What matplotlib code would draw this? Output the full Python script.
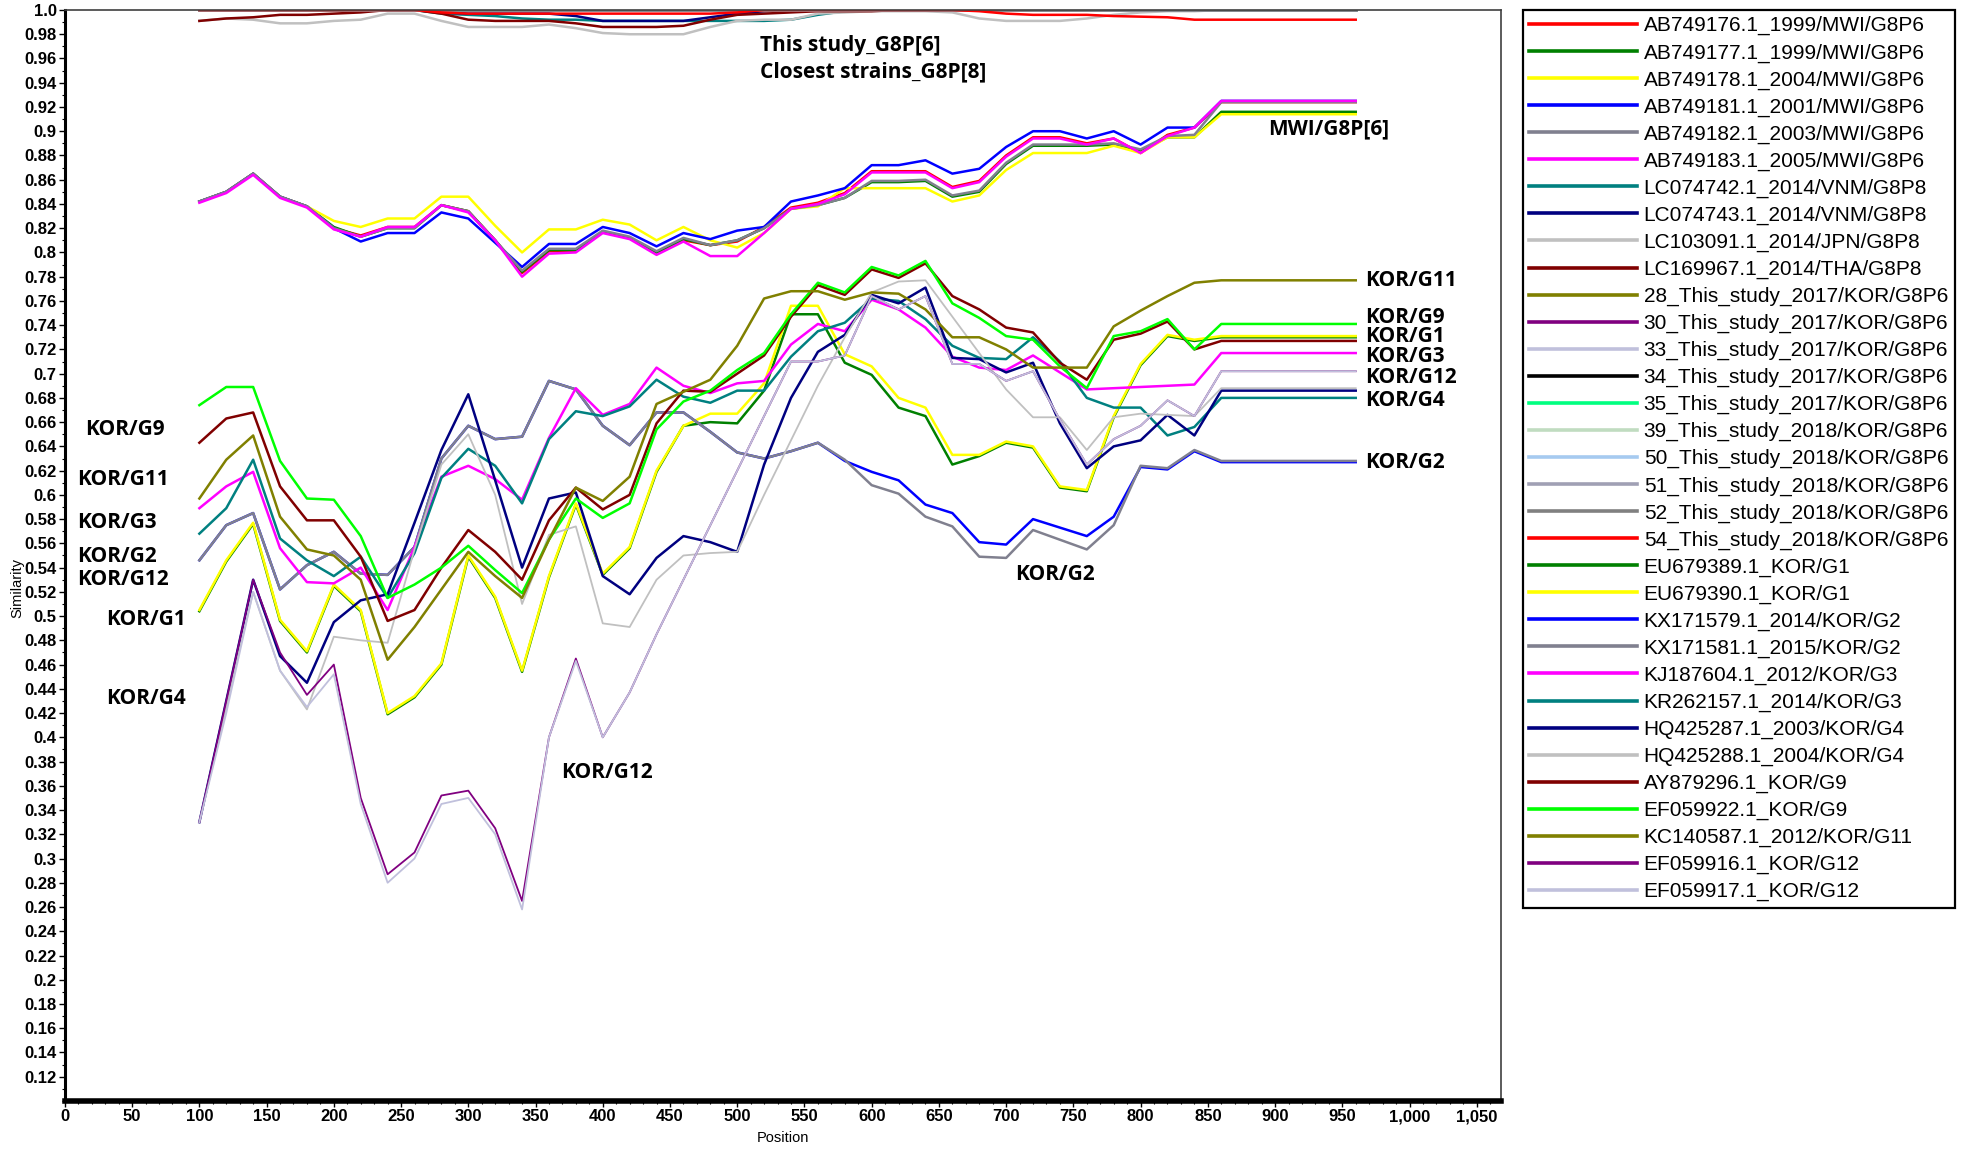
import matplotlib
matplotlib.use('Agg')
import matplotlib.pyplot as plt
from matplotlib.ticker import MultipleLocator, FixedLocator, FuncFormatter

# window midpoints (bp)
POSITION = list(range(100, 961, 20))

# ---- MWI G8P[6] ----
AB749176 = [0.842, 0.850, 0.865, 0.846, 0.838, 0.820, 0.814, 0.821, 0.821,
            0.839, 0.834, 0.810, 0.783, 0.801, 0.801, 0.817, 0.812, 0.800, 0.810,
            0.806, 0.809, 0.821, 0.837, 0.841, 0.849, 0.867, 0.867, 0.867, 0.854,
            0.859, 0.880, 0.895, 0.895, 0.890, 0.894, 0.882, 0.897, 0.903, 0.924,
            0.924, 0.924, 0.924, 0.924, 0.924]
AB749177 = [0.842, 0.850, 0.865, 0.846, 0.838, 0.821, 0.813, 0.820, 0.820,
            0.839, 0.834, 0.810, 0.784, 0.802, 0.802, 0.817, 0.812, 0.800, 0.811,
            0.806, 0.810, 0.820, 0.836, 0.839, 0.845, 0.858, 0.858, 0.859, 0.846,
            0.850, 0.873, 0.888, 0.888, 0.888, 0.889, 0.884, 0.895, 0.895, 0.916,
            0.916, 0.916, 0.916, 0.916, 0.916]
AB749178 = [0.842, 0.850, 0.865, 0.846, 0.838, 0.826, 0.821, 0.828, 0.828,
            0.846, 0.846, 0.822, 0.800, 0.819, 0.819, 0.827, 0.823, 0.810, 0.821,
            0.810, 0.804, 0.816, 0.836, 0.838, 0.853, 0.853, 0.853, 0.853, 0.842,
            0.847, 0.868, 0.882, 0.882, 0.882, 0.888, 0.882, 0.895, 0.895, 0.914,
            0.914, 0.914, 0.914, 0.914, 0.914]
AB749181 = [0.842, 0.850, 0.865, 0.846, 0.838, 0.820, 0.809, 0.816, 0.816,
            0.833, 0.828, 0.808, 0.788, 0.807, 0.807, 0.821, 0.816, 0.805, 0.816,
            0.811, 0.818, 0.821, 0.842, 0.847, 0.853, 0.872, 0.872, 0.876, 0.865,
            0.869, 0.887, 0.900, 0.900, 0.894, 0.900, 0.889, 0.903, 0.903, 0.925,
            0.925, 0.925, 0.925, 0.925, 0.925]
AB749182 = [0.842, 0.850, 0.865, 0.846, 0.838, 0.820, 0.813, 0.820, 0.820,
            0.839, 0.834, 0.810, 0.785, 0.803, 0.803, 0.818, 0.813, 0.801, 0.812,
            0.806, 0.810, 0.820, 0.836, 0.839, 0.845, 0.859, 0.859, 0.860, 0.847,
            0.851, 0.874, 0.889, 0.889, 0.889, 0.890, 0.885, 0.896, 0.897, 0.924,
            0.924, 0.924, 0.924, 0.924, 0.924]
AB749183 = [0.841, 0.849, 0.864, 0.845, 0.837, 0.819, 0.813, 0.821, 0.821,
            0.839, 0.833, 0.810, 0.780, 0.799, 0.800, 0.816, 0.811, 0.798, 0.809,
            0.797, 0.797, 0.816, 0.836, 0.840, 0.848, 0.866, 0.866, 0.866, 0.853,
            0.858, 0.879, 0.894, 0.894, 0.889, 0.894, 0.882, 0.896, 0.903, 0.925,
            0.925, 0.925, 0.925, 0.925, 0.925]

# ---- closest G8P[8] ----
LC074742 = [1.0, 1.0, 1.0, 1.0, 1.0, 1.0, 1.0, 1.0, 1.0,
            0.997, 0.996, 0.995, 0.993, 0.992, 0.992, 0.991, 0.991, 0.991, 0.991,
            0.991, 0.991, 0.991, 0.992, 0.996, 0.999, 1.0, 1.0, 1.0, 1.0,
            1.0, 1.0, 1.0, 1.0, 1.0, 1.0, 1.0, 1.0, 1.0, 1.0,
            1.0, 1.0, 1.0, 1.0, 1.0]
LC074743 = [1.0, 1.0, 1.0, 1.0, 1.0, 1.0, 1.0, 1.0, 1.0,
            0.998, 0.997, 0.997, 0.997, 0.997, 0.995, 0.991, 0.991, 0.991, 0.991,
            0.994, 0.997, 0.999, 1.0, 1.0, 1.0, 1.0, 1.0, 1.0, 1.0,
            1.0, 1.0, 1.0, 1.0, 1.0, 1.0, 1.0, 1.0, 1.0, 1.0,
            1.0, 1.0, 1.0, 1.0, 1.0]
LC103091 = [0.991, 0.993, 0.992, 0.989, 0.989, 0.991, 0.992, 0.997, 0.997,
            0.991, 0.986, 0.986, 0.986, 0.988, 0.985, 0.981, 0.980, 0.980, 0.980,
            0.986, 0.991, 0.992, 0.992, 0.997, 0.998, 0.999, 0.999, 0.999, 0.998,
            0.993, 0.991, 0.991, 0.991, 0.993, 0.996, 0.998, 0.999, 0.999, 1.0,
            1.0, 1.0, 1.0, 1.0, 1.0]
LC169967 = [0.991, 0.993, 0.994, 0.996, 0.996, 0.997, 0.998, 1.0, 1.0,
            0.997, 0.992, 0.991, 0.991, 0.991, 0.989, 0.986, 0.986, 0.986, 0.987,
            0.992, 0.996, 0.997, 0.998, 0.999, 0.999, 0.999, 1.0, 1.0, 1.0,
            1.0, 1.0, 1.0, 1.0, 1.0, 1.0, 1.0, 1.0, 1.0, 1.0,
            1.0, 1.0, 1.0, 1.0, 1.0]

# ---- this study (flat on the top border) ----
STUDY_TOP = [1.0, 1.0, 1.0, 1.0, 1.0, 1.0, 1.0, 1.0, 1.0,
             1.0, 1.0, 1.0, 1.0, 1.0, 1.0, 1.0, 1.0, 1.0, 1.0,
             1.0, 1.0, 1.0, 1.0, 1.0, 1.0, 1.0, 1.0, 1.0, 1.0,
             1.0, 1.0, 1.0, 1.0, 1.0, 1.0, 1.0, 1.0, 1.0, 1.0,
             1.0, 1.0, 1.0, 1.0, 1.0]
STUDY_54 = [1.0, 1.0, 1.0, 1.0, 1.0, 1.0, 1.0, 1.0, 1.0,
            0.998, 0.997, 0.997, 0.997, 0.997, 0.997, 0.997, 0.997, 0.997, 0.997,
            0.997, 0.998, 1.0, 1.0, 1.0, 1.0, 1.0, 1.0, 1.0, 1.0,
            0.999, 0.997, 0.996, 0.996, 0.996, 0.995, 0.9945, 0.994, 0.992, 0.992,
            0.992, 0.992, 0.992, 0.992, 0.992]

# ---- KOR reference strains ----
EU679389 = [0.504, 0.545, 0.576, 0.496, 0.470, 0.525, 0.504, 0.419, 0.433,
            0.460, 0.549, 0.515, 0.454, 0.532, 0.592, 0.534, 0.556, 0.619, 0.657,
            0.660, 0.659, 0.686, 0.749, 0.749, 0.709, 0.699, 0.672, 0.665, 0.625,
            0.632, 0.643, 0.639, 0.606, 0.603, 0.664, 0.707, 0.731, 0.727, 0.730,
            0.730, 0.730, 0.730, 0.730, 0.730]
EU679390 = [0.505, 0.546, 0.577, 0.497, 0.471, 0.526, 0.505, 0.420, 0.434,
            0.461, 0.550, 0.516, 0.455, 0.533, 0.593, 0.535, 0.557, 0.620, 0.657,
            0.667, 0.667, 0.692, 0.756, 0.756, 0.716, 0.706, 0.680, 0.672, 0.633,
            0.633, 0.644, 0.640, 0.607, 0.604, 0.665, 0.708, 0.732, 0.728, 0.731,
            0.731, 0.731, 0.731, 0.731, 0.731]
KX171579 = [0.546, 0.575, 0.585, 0.522, 0.542, 0.553, 0.535, 0.534, 0.557,
            0.630, 0.657, 0.646, 0.648, 0.694, 0.687, 0.657, 0.641, 0.668, 0.668,
            0.652, 0.635, 0.630, 0.636, 0.643, 0.628, 0.619, 0.612, 0.592, 0.585,
            0.561, 0.559, 0.580, 0.573, 0.566, 0.582, 0.623, 0.621, 0.636, 0.627,
            0.627, 0.627, 0.627, 0.627, 0.627]
KX171581 = [0.546, 0.575, 0.585, 0.522, 0.542, 0.553, 0.535, 0.534, 0.557,
            0.630, 0.657, 0.646, 0.648, 0.694, 0.687, 0.657, 0.641, 0.668, 0.668,
            0.652, 0.635, 0.630, 0.636, 0.643, 0.629, 0.608, 0.601, 0.582, 0.574,
            0.549, 0.548, 0.571, 0.563, 0.555, 0.575, 0.624, 0.622, 0.637, 0.628,
            0.628, 0.628, 0.628, 0.628, 0.628]
KJ187604 = [0.589, 0.607, 0.619, 0.556, 0.528, 0.527, 0.540, 0.505, 0.557,
            0.615, 0.624, 0.613, 0.596, 0.647, 0.688, 0.666, 0.675, 0.705, 0.690,
            0.684, 0.692, 0.694, 0.724, 0.741, 0.735, 0.761, 0.753, 0.738, 0.714,
            0.705, 0.703, 0.715, 0.701, 0.687, 0.688, 0.689, 0.690, 0.691, 0.717,
            0.717, 0.717, 0.717, 0.717, 0.717]
KR262157 = [0.568, 0.589, 0.629, 0.564, 0.546, 0.533, 0.549, 0.515, 0.552,
            0.614, 0.638, 0.624, 0.593, 0.646, 0.669, 0.665, 0.673, 0.695, 0.681,
            0.676, 0.686, 0.686, 0.714, 0.735, 0.742, 0.762, 0.760, 0.745, 0.723,
            0.713, 0.712, 0.730, 0.710, 0.680, 0.672, 0.672, 0.649, 0.656, 0.680,
            0.680, 0.680, 0.680, 0.680, 0.680]
HQ425287 = [0.330, 0.430, 0.530, 0.467, 0.445, 0.495, 0.513, 0.518, 0.577,
            0.637, 0.683, 0.612, 0.540, 0.597, 0.602, 0.533, 0.518, 0.548, 0.566,
            0.561, 0.553, 0.625, 0.680, 0.718, 0.732, 0.765, 0.758, 0.771, 0.713,
            0.712, 0.701, 0.709, 0.659, 0.622, 0.640, 0.645, 0.666, 0.649, 0.686,
            0.686, 0.686, 0.686, 0.686, 0.686]
HQ425288 = [0.330, 0.425, 0.520, 0.455, 0.423, 0.483, 0.480, 0.478, 0.555,
            0.625, 0.650, 0.600, 0.510, 0.567, 0.574, 0.494, 0.491, 0.530, 0.550,
            0.552, 0.553, 0.600, 0.645, 0.690, 0.730, 0.767, 0.776, 0.777, 0.747,
            0.717, 0.687, 0.664, 0.664, 0.637, 0.664, 0.667, 0.666, 0.665, 0.688,
            0.688, 0.688, 0.688, 0.688, 0.688]
AY879296 = [0.643, 0.663, 0.668, 0.607, 0.579, 0.579, 0.549, 0.496, 0.505,
            0.540, 0.571, 0.553, 0.530, 0.579, 0.606, 0.588, 0.600, 0.659, 0.686,
            0.685, 0.700, 0.715, 0.747, 0.773, 0.765, 0.786, 0.779, 0.791, 0.764,
            0.753, 0.738, 0.734, 0.709, 0.695, 0.728, 0.733, 0.743, 0.720, 0.727,
            0.727, 0.727, 0.727, 0.727, 0.727]
EF059922 = [0.674, 0.689, 0.689, 0.628, 0.597, 0.596, 0.566, 0.515, 0.526,
            0.540, 0.558, 0.538, 0.519, 0.563, 0.597, 0.581, 0.593, 0.654, 0.677,
            0.686, 0.703, 0.717, 0.749, 0.775, 0.767, 0.788, 0.781, 0.793, 0.758,
            0.746, 0.731, 0.728, 0.706, 0.688, 0.731, 0.735, 0.745, 0.720, 0.741,
            0.741, 0.741, 0.741, 0.741, 0.741]
KC140587 = [0.597, 0.629, 0.649, 0.582, 0.555, 0.550, 0.530, 0.464, 0.491,
            0.522, 0.553, 0.533, 0.515, 0.563, 0.606, 0.595, 0.615, 0.675, 0.685,
            0.695, 0.723, 0.762, 0.768, 0.768, 0.761, 0.767, 0.766, 0.753, 0.730,
            0.730, 0.720, 0.705, 0.705, 0.705, 0.739, 0.752, 0.764, 0.775, 0.777,
            0.777, 0.777, 0.777, 0.777, 0.777]
EF059916 = [0.330, 0.430, 0.530, 0.470, 0.435, 0.460, 0.350, 0.287, 0.305,
            0.352, 0.356, 0.325, 0.265, 0.400, 0.465, 0.400, 0.437, 0.485, 0.530,
            0.575, 0.620, 0.665, 0.710, 0.710, 0.715, 0.764, 0.753, 0.764, 0.708,
            0.708, 0.694, 0.702, 0.662, 0.625, 0.646, 0.657, 0.678, 0.665, 0.702,
            0.702, 0.702, 0.702, 0.702, 0.702]
EF059917 = [0.330, 0.420, 0.520, 0.455, 0.425, 0.452, 0.345, 0.280, 0.300,
            0.345, 0.350, 0.320, 0.258, 0.400, 0.463, 0.400, 0.437, 0.485, 0.530,
            0.575, 0.620, 0.665, 0.710, 0.710, 0.715, 0.764, 0.753, 0.764, 0.708,
            0.708, 0.694, 0.702, 0.662, 0.625, 0.646, 0.657, 0.678, 0.665, 0.702,
            0.702, 0.702, 0.702, 0.702, 0.702]

# (legend label, colour, values, width) in drawing / legend order
SERIES = [
    ('AB749176.1_1999/MWI/G8P6', '#FF0000', AB749176, 1.8),
    ('AB749177.1_1999/MWI/G8P6', '#008000', AB749177, 1.8),
    ('AB749178.1_2004/MWI/G8P6', '#FFFF00', AB749178, 1.8),
    ('AB749181.1_2001/MWI/G8P6', '#0000FF', AB749181, 1.8),
    ('AB749182.1_2003/MWI/G8P6', '#80808F', AB749182, 1.8),
    ('AB749183.1_2005/MWI/G8P6', '#FF00FF', AB749183, 1.8),
    ('LC074742.1_2014/VNM/G8P8', '#008080', LC074742, 1.8),
    ('LC074743.1_2014/VNM/G8P8', '#000080', LC074743, 1.8),
    ('LC103091.1_2014/JPN/G8P8', '#C0C0C0', LC103091, 1.8),
    ('LC169967.1_2014/THA/G8P8', '#800000', LC169967, 1.8),
    ('28_This_study_2017/KOR/G8P6', '#808000', STUDY_TOP, 1.8),
    ('30_This_study_2017/KOR/G8P6', '#800080', STUDY_TOP, 1.8),
    ('33_This_study_2017/KOR/G8P6', '#C0C0DC', STUDY_TOP, 1.8),
    ('34_This_study_2017/KOR/G8P6', '#000000', STUDY_TOP, 1.8),
    ('35_This_study_2017/KOR/G8P6', '#00FF80', STUDY_TOP, 1.8),
    ('39_This_study_2018/KOR/G8P6', '#C0DCC0', STUDY_TOP, 1.8),
    ('50_This_study_2018/KOR/G8P6', '#A6CAF0', STUDY_TOP, 1.8),
    ('51_This_study_2018/KOR/G8P6', '#A0A0B4', STUDY_TOP, 1.8),
    ('52_This_study_2018/KOR/G8P6', '#808080', STUDY_TOP, 1.8),
    ('54_This_study_2018/KOR/G8P6', '#FF0000', STUDY_54, 1.8),
    ('EU679389.1_KOR/G1', '#008000', EU679389, 1.8),
    ('EU679390.1_KOR/G1', '#FFFF00', EU679390, 1.8),
    ('KX171579.1_2014/KOR/G2', '#0000FF', KX171579, 1.8),
    ('KX171581.1_2015/KOR/G2', '#80808F', KX171581, 1.8),
    ('KJ187604.1_2012/KOR/G3', '#FF00FF', KJ187604, 1.8),
    ('KR262157.1_2014/KOR/G3', '#008080', KR262157, 1.8),
    ('HQ425287.1_2003/KOR/G4', '#000080', HQ425287, 1.8),
    ('HQ425288.1_2004/KOR/G4', '#C0C0C0', HQ425288, 1.3),
    ('AY879296.1_KOR/G9', '#800000', AY879296, 1.8),
    ('EF059922.1_KOR/G9', '#00FF00', EF059922, 1.8),
    ('KC140587.1_2012/KOR/G11', '#808000', KC140587, 1.8),
    ('EF059916.1_KOR/G12', '#800080', EF059916, 1.3),
    ('EF059917.1_KOR/G12', '#C0C0DC', EF059917, 1.3),
]

# group labels (x, y, text)
NOTES = [
    (517, 0.971, 'This study_G8P[6]'),
    (517, 0.949, 'Closest strains_G8P[8]'),
    (895, 0.902, 'MWI/G8P[6]'),
    (967, 0.777, 'KOR/G11'),
    (967, 0.746, 'KOR/G9'),
    (967, 0.731, 'KOR/G1'),
    (967, 0.714, 'KOR/G3'),
    (967, 0.697, 'KOR/G12'),
    (967, 0.678, 'KOR/G4'),
    (967, 0.627, 'KOR/G2'),
    (15, 0.654, 'KOR/G9'),
    (9, 0.613, 'KOR/G11'),
    (9, 0.577, 'KOR/G3'),
    (9, 0.549, 'KOR/G2'),
    (9, 0.530, 'KOR/G12'),
    (31, 0.497, 'KOR/G1'),
    (31, 0.432, 'KOR/G4'),
    (369, 0.371, 'KOR/G12'),
    (707, 0.534, 'KOR/G2'),
]

TICKFONT = ['Liberation Sans Narrow', 'Liberation Sans', 'DejaVu Sans']
NOTEFONT = ['Open Sans', 'Liberation Sans', 'DejaVu Sans']

fig = plt.figure(figsize=(19.61, 11.49), dpi=100)
ax = fig.add_axes([0.0331, 0.0418, 0.7323, 0.9495])

for lab, col, vals, lw in SERIES:
    ax.plot(POSITION, vals, color=col, lw=lw, label=lab)

ax.set_xlim(0, 1068)
ax.set_ylim(0.1, 1.0)

ax.xaxis.set_major_locator(MultipleLocator(50))
ax.xaxis.set_minor_locator(MultipleLocator(10))
ax.xaxis.set_major_formatter(FuncFormatter(lambda v, p: '{:,}'.format(int(round(v)))))

yt = [round(0.12 + 0.02 * i, 2) for i in range(45)]
ax.yaxis.set_major_locator(FixedLocator(yt))
ax.yaxis.set_minor_locator(MultipleLocator(0.01))


def ylab(v, p):
    if abs(v - 1.0) < 1e-9:
        return '1.0'
    return ('%.2f' % v).rstrip('0')


ax.yaxis.set_major_formatter(FuncFormatter(ylab))

ax.tick_params(axis='both', which='major', direction='out', length=4, width=1,
               labelsize=12, pad=2)
ax.tick_params(axis='both', which='minor', direction='out', length=2, width=0.8)
for t in ax.get_xticklabels() + ax.get_yticklabels():
    t.set_family(TICKFONT)
    t.set_fontweight('bold')

ax.spines['left'].set_linewidth(2.2)
ax.spines['bottom'].set_linewidth(4)
ax.spines['top'].set_linewidth(1.2)
ax.spines['right'].set_linewidth(1.2)
ax.spines['top'].set_color('#404040')
ax.spines['right'].set_color('#404040')

ax.set_ylabel('Similarity', fontsize=10.5, family=TICKFONT)
ax.yaxis.set_label_coords(-0.028, 0.47)
ax.set_xlabel('Position', fontsize=10.5, family=TICKFONT, labelpad=5)

for x, y, s in NOTES:
    ax.text(x, y, s, ha='left', va='center', fontsize=15, fontweight='bold',
            family=NOTEFONT, color='#000000')

leg = fig.legend(loc='upper left', bbox_to_anchor=(0.7766, 0.9913),
                 bbox_transform=fig.transFigure, borderaxespad=0,
                 prop={'family': 'Liberation Sans', 'size': 15},
                 handlelength=5.2, handletextpad=0.3, labelspacing=0.375,
                 borderpad=0.3, fancybox=False, framealpha=1,
                 edgecolor='#000000')
leg.get_frame().set_linewidth(1.6)
for h in leg.get_lines():
    h.set_linewidth(2.6)

fig.savefig('out.png', dpi=100)
